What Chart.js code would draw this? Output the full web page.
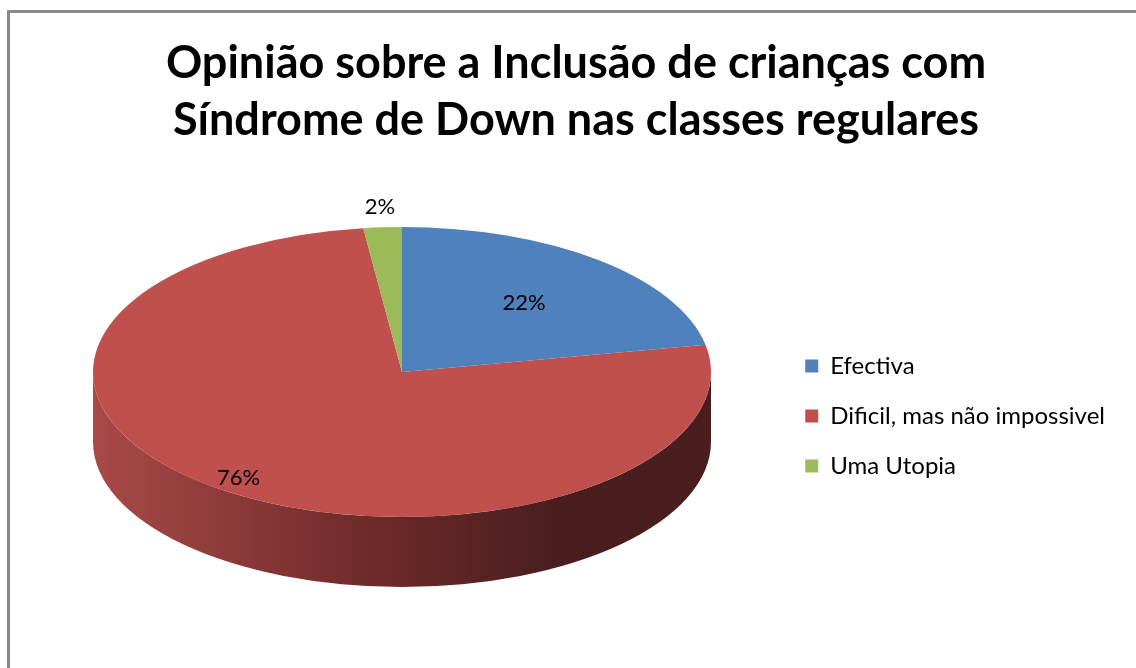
<!DOCTYPE html>
<html>
<head>
<meta charset="utf-8">
<script src="https://cdn.jsdelivr.net/npm/chart.js@4.4.1/dist/chart.umd.min.js"></script>
<style>
  html, body { margin: 0; padding: 0; background: #fff; overflow: hidden; }
  #frame { position: absolute; left: 7px; top: 10px; width: 1200px; height: 700px;
           border-left: 3px solid #8a8a8a; border-top: 3px solid #8a8a8a; }
  #wrap { position: absolute; left: 0; top: 0; width: 1136px; height: 668px; }
</style>
</head>
<body>
<div id="frame"></div>
<div id="wrap"><canvas id="pieChart" width="1136" height="832"></canvas></div>
<script>
// data
const categories = ["Efectiva", "Dificil, mas não impossivel", "Uma Utopia"];
const shares = [22, 76, 2];
const sliceColors = ["#4F81BD", "#C0504D", "#9BBB59"];
const sideColors = [["#3f6897", "#22395a"], ["#a94a47", "#4a1e1e"], ["#7c9647", "#4a5a2a"]];
const titleLines = ["Opinião sobre a Inclusão de crianças com", "Síndrome de Down nas classes regulares"];

// 3d look: top ellipse + depth
const pie = { cx: 402, cy: 372, rx: 309, ry: 145, depth: 70 };
const labelRadius = [0.62, 0.9, 1.14];

const pie3d = {
  id: "pie3d",
  beforeDatasetsDraw(chart) {
    const ctx = chart.ctx;
    const meta = chart.getDatasetMeta(0);
    const first = meta.data[0];

    // front side of the slices (only between 0 and PI is visible)
    meta.data.forEach((arc, i) => {
      [0, 2 * Math.PI, -2 * Math.PI].forEach(shift => {
        const a0 = Math.max(arc.startAngle - shift, 0);
        const a1 = Math.min(arc.endAngle - shift, Math.PI);
        if (a1 <= a0) return;
        const g = ctx.createLinearGradient(pie.cx - pie.rx, 0, pie.cx + pie.rx, 0);
        g.addColorStop(0, sideColors[i][0]);
        g.addColorStop(0.45, "#6e2a29");
        g.addColorStop(0.75, sideColors[i][1]);
        g.addColorStop(1, sideColors[i][1]);
        ctx.save();
        ctx.beginPath();
        ctx.ellipse(pie.cx, pie.cy, pie.rx, pie.ry, 0, a0, a1);
        ctx.ellipse(pie.cx, pie.cy + pie.depth, pie.rx, pie.ry, 0, a1, a0, true);
        ctx.closePath();
        ctx.fillStyle = g;
        ctx.fill();
        ctx.restore();
      });
    });

    // squash the library's arcs into the top ellipse
    ctx.save();
    ctx.translate(pie.cx, pie.cy);
    ctx.scale(pie.rx / first.outerRadius, pie.ry / first.outerRadius);
    ctx.translate(-first.x, -first.y);
  },
  afterDatasetsDraw(chart) {
    const ctx = chart.ctx;
    ctx.restore();
    const meta = chart.getDatasetMeta(0);
    const total = shares.reduce((a, b) => a + b, 0);
    ctx.save();
    ctx.font = "22px Lato";
    ctx.fillStyle = "#000";
    ctx.textAlign = "center";
    ctx.textBaseline = "middle";
    meta.data.forEach((arc, i) => {
      const mid = (arc.startAngle + arc.endAngle) / 2;
      const f = labelRadius[i];
      const x = pie.cx + pie.rx * f * Math.cos(mid);
      const y = pie.cy + pie.ry * f * Math.sin(mid);
      ctx.fillText(Math.round(shares[i] / total * 100) + "%", x, y);
    });
    ctx.restore();
  }
};

const pieChart = new Chart(document.getElementById("pieChart"), {
  type: "pie",
  data: {
    labels: categories,
    datasets: [{
      data: shares,
      backgroundColor: sliceColors,
      borderWidth: 0
    }]
  },
  options: {
    responsive: false,
    animation: false,
    layout: {
      padding: { left: 37, right: 21, top: 0, bottom: 0 }
    },
    plugins: {
      tooltip: { enabled: false },
      title: {
        display: true,
        text: titleLines,
        color: "#000",
        font: { family: "Lato", size: 45, weight: "bold", lineHeight: 1.27 },
        padding: { top: 35, bottom: 20 }
      },
      legend: {
        position: "right",
        labels: {
          color: "#000",
          boxWidth: 13,
          boxHeight: 13,
          padding: 26,
          font: { family: "Lato", size: 24 }
        }
      }
    }
  },
  plugins: [pie3d]
});
</script>
</body>
</html>
